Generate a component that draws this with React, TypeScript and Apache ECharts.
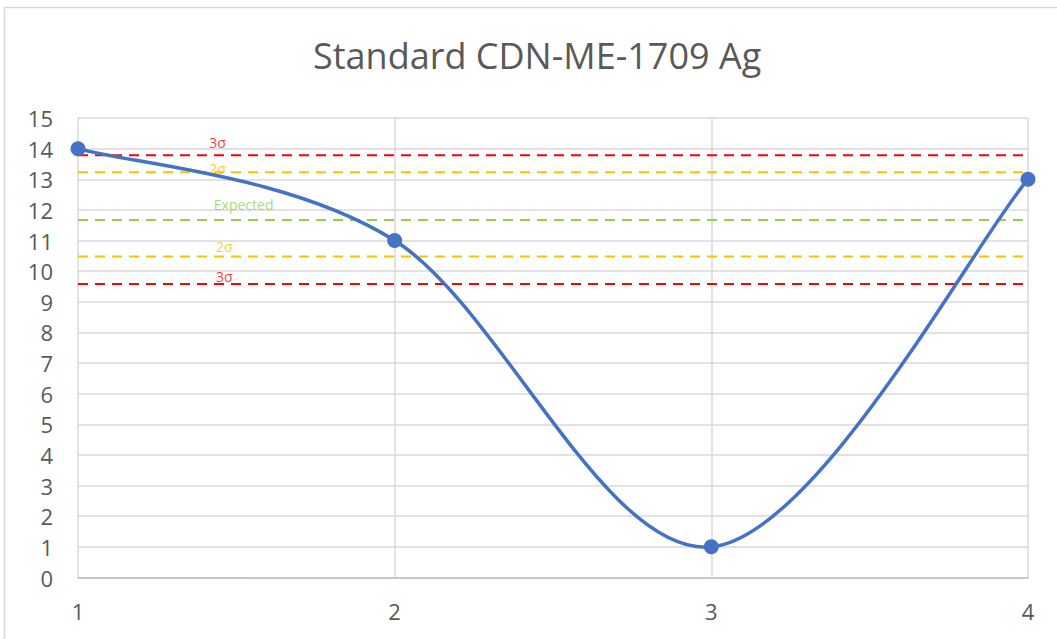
import React, { useEffect, useRef } from "react";
import * as echarts from "echarts";

const titleText = "Standard CDN-ME-1709 Ag";
const xValues = [1, 2, 3, 4];
const yValues = [14, 11, 1, 13];

const refNames = ["3σ", "2σ", "Expected", "2σ", "3σ"];
const refValues = [13.78, 13.23, 11.67, 10.48, 9.58];
const refColors = ["#FF0000", "#FFC000", "#92D050", "#FFC000", "#FF0000"];
const refLabelX = [1.441, 1.441, 1.523, 1.462, 1.462];
// style: pixel offsets of label centre above its line
const refLabelOffsets = [13, 4, 16, 10, 8];

const LINE_COLOR = "#4472C4";

export default function App() {
  const ref = useRef<HTMLDivElement>(null);
  useEffect(() => {
    document.body.style.margin = "0";
    const chart = echarts.init(ref.current!, null, { renderer: "svg" });
    const font = "'Open Sans', sans-serif";
    const n = xValues.length;
    const pt = (k: number) => {
      const j = Math.max(0, Math.min(n - 1, k));
      return [xValues[j], yValues[j]];
    };
    const refSeries: any[] = refValues.map((v, i) => ({
      type: "line",
      data: [
        [1, v],
        [4, v],
      ],
      symbol: "none",
      silent: true,
      z: 1,
      lineStyle: { color: refColors[i], width: 2, type: [10, 7] },
    }));
    const labelSeries = {
      type: "scatter",
      symbolSize: 0,
      silent: true,
      data: refNames.map((nm, i) => ({
        value: [refLabelX[i], refValues[i]],
        name: nm,
        label: {
          show: true,
          formatter: nm,
          position: "inside",
          offset: [0, -refLabelOffsets[i]],
          color: refColors[i],
          fontSize: 14,
          fontFamily: font,
        },
      })),
    };
    // Excel-like smoothed curve: cubic Bezier segments with Catmull-Rom (1/6) control points
    const curveSeries = {
      type: "custom",
      z: 4,
      silent: true,
      data: xValues.map((x, i) => [x, yValues[i]]),
      encode: { x: 0, y: 1 },
      renderItem: (params: any, api: any) => {
        const i = params.dataIndex;
        if (i >= n - 1) return { type: "group", children: [] };
        const p0 = pt(i - 1);
        const p1 = pt(i);
        const p2 = pt(i + 1);
        const p3 = pt(i + 2);
        const c1 = [p1[0] + (p2[0] - p0[0]) / 6, p1[1] + (p2[1] - p0[1]) / 6];
        const c2 = [p2[0] - (p3[0] - p1[0]) / 6, p2[1] - (p3[1] - p1[1]) / 6];
        const a = api.coord(p1);
        const b = api.coord(p2);
        const ca = api.coord(c1);
        const cb = api.coord(c2);
        return {
          type: "bezierCurve",
          shape: {
            x1: a[0],
            y1: a[1],
            x2: b[0],
            y2: b[1],
            cpx1: ca[0],
            cpy1: ca[1],
            cpx2: cb[0],
            cpy2: cb[1],
          },
          style: { stroke: LINE_COLOR, lineWidth: 3.5, fill: "none", lineCap: "round" },
        };
      },
    };
    chart.setOption({
      animation: false,
      title: {
        text: titleText,
        left: 308,
        top: 32,
        textStyle: {
          fontFamily: font,
          fontSize: 36,
          fontWeight: "normal",
          color: "#595959",
        },
      },
      graphic: [
        {
          type: "rect",
          shape: { x: 4.5, y: 7.5, width: 1070, height: 660 },
          style: { fill: "none", stroke: "#d9d9d9", lineWidth: 1.5 },
          silent: true,
        },
      ],
      grid: { left: 78, right: 29, top: 118, bottom: 61.5 },
      xAxis: {
        type: "value",
        min: 1,
        max: 4,
        interval: 1,
        axisLine: { show: true, onZero: false, lineStyle: { color: "#bfbfbf", width: 1.5 } },
        axisTick: { show: false },
        splitLine: { show: true, lineStyle: { color: "#d9d9d9", width: 1.5 } },
        axisLabel: { color: "#595959", fontSize: 22, fontFamily: font, margin: 22 },
      },
      yAxis: {
        type: "value",
        min: 0,
        max: 15,
        interval: 1,
        axisLine: { show: false },
        axisTick: { show: false },
        splitLine: { show: true, lineStyle: { color: "#d9d9d9", width: 1.5 } },
        axisLabel: { color: "#595959", fontSize: 22, fontFamily: font, margin: 25 },
      },
      series: [
        ...refSeries,
        labelSeries,
        curveSeries,
        {
          type: "scatter",
          data: xValues.map((x, i) => [x, yValues[i]]),
          symbol: "circle",
          symbolSize: 15,
          z: 5,
          itemStyle: { color: LINE_COLOR, opacity: 1 },
        },
      ],
    });
    return () => chart.dispose();
  }, []);
  return <div ref={ref} style={{ width: 1057, height: 639 }} />;
}
